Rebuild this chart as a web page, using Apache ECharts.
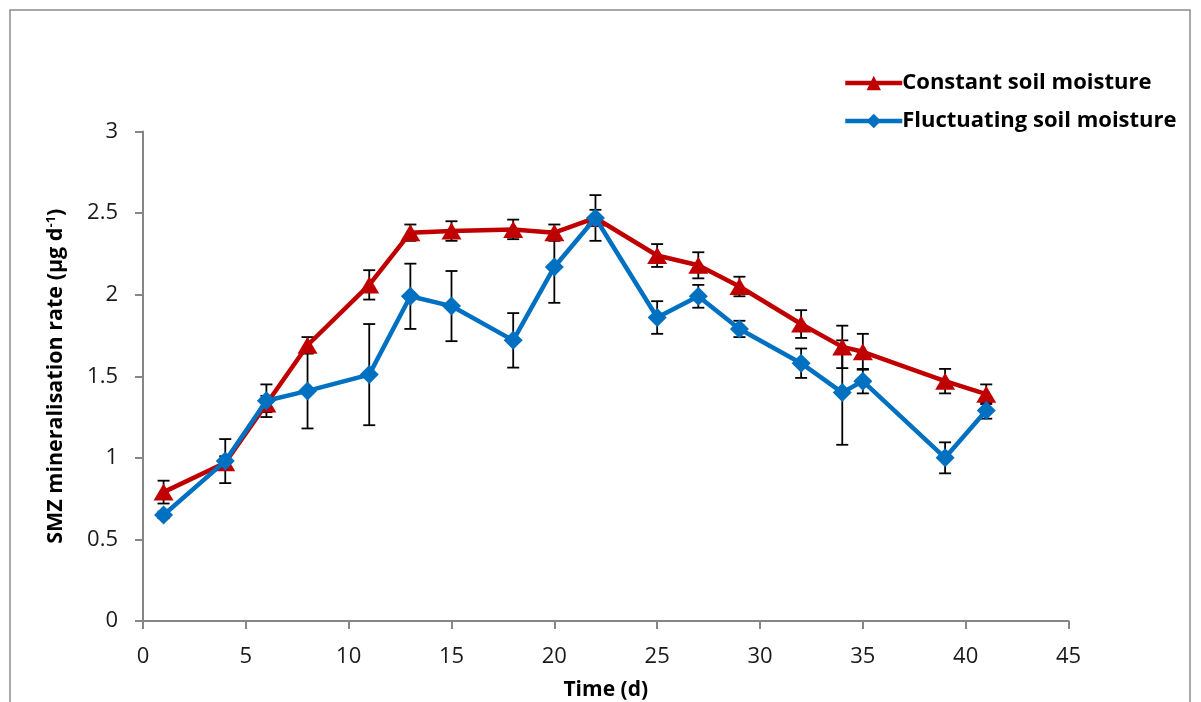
<!DOCTYPE html>
<html><head><meta charset="utf-8">
<script src="https://cdn.jsdelivr.net/npm/echarts@6/dist/echarts.min.js"></script>
<style>html,body{margin:0;padding:0;background:#fff}#c{width:1201px;height:702px}</style>
</head><body><div id="c"></div>
<script>
const days = [1,4,6,8,11,13,15,18,20,22,25,27,29,32,34,35,39,41];
const constant = [0.79,0.97,1.33,1.69,2.06,2.38,2.39,2.40,2.38,2.47,2.24,2.18,2.05,1.82,1.68,1.65,1.47,1.39];
const constantErr = [0.07,0.04,0.05,0.05,0.09,0.05,0.06,0.06,0.05,0.05,0.07,0.08,0.06,0.085,0.13,0.11,0.075,0.06];
const fluctuating = [0.65,0.98,1.35,1.41,1.51,1.99,1.93,1.72,2.17,2.47,1.86,1.99,1.79,1.58,1.40,1.47,1.00,1.29];
const fluctuatingErr = [0.02,0.135,0.10,0.23,0.31,0.20,0.215,0.167,0.22,0.14,0.10,0.07,0.05,0.09,0.32,0.075,0.095,0.05];
const seriesNames = ['Constant soil moisture','Fluctuating soil moisture'];

const FONT = 'Open Sans';
const chart = echarts.init(document.getElementById('c'));

function errData(vals, errs){ return days.map((d,i)=>[d, vals[i]-errs[i], vals[i]+errs[i]]); }
function errSeries(vals, errs){
  return {
    type:'custom', z:1, silent:true,
    data: errData(vals, errs),
    renderItem: function(params, api){
      const x = api.value(0);
      const lo = api.coord([x, api.value(1)]);
      const hi = api.coord([x, api.value(2)]);
      const w = 6;
      const st = {stroke:'#000', lineWidth:1.8};
      return {type:'group', children:[
        {type:'line', shape:{x1:lo[0],y1:lo[1],x2:hi[0],y2:hi[1]}, style:st},
        {type:'line', shape:{x1:lo[0]-w,y1:lo[1],x2:lo[0]+w,y2:lo[1]}, style:st},
        {type:'line', shape:{x1:hi[0]-w,y1:hi[1],x2:hi[0]+w,y2:hi[1]}, style:st}
      ]};
    }
  };
}

chart.setOption({
  animation:false,
  backgroundColor:'#fff',
  grid:{left:143, right:132.5, top:131.5, bottom:81, containLabel:false, outerBoundsMode:'none'},
  graphic:[{type:'rect', shape:{x:10,y:10,width:1180,height:720}, style:{fill:'none', stroke:'#8c8c8c', lineWidth:1.5}, z:-1}],
  legend:{
    orient:'vertical', left:843, top:72, padding:0, itemWidth:57, itemHeight:18, itemGap:16,
    lineStyle:{width:4.5},
    textStyle:{fontFamily:FONT, fontWeight:'bold', fontSize:22, color:'#000', padding:[0,0,0,-5]},
    data:seriesNames
  },
  xAxis:{
    type:'value', min:0, max:45, interval:5,
    name:'Time (d)', nameLocation:'middle', nameGap:59,
    nameTextStyle:{fontFamily:FONT, fontWeight:'bold', fontSize:21, color:'#000'},
    axisLine:{lineStyle:{color:'#868686', width:2}},
    axisTick:{show:true, length:8, lineStyle:{color:'#868686', width:2}},
    axisLabel:{fontFamily:FONT, fontSize:22, color:'#1a1a1a', margin:25},
    splitLine:{show:false}
  },
  yAxis:{
    type:'value', min:0, max:3, interval:0.5,
    name:'{n|SMZ mineralisation rate (µg d}{s|-1}{n|)}', nameLocation:'middle', nameGap:76,
    nameTextStyle:{rich:{
      n:{fontFamily:FONT, fontWeight:'bold', fontSize:21.5, color:'#000'},
      s:{fontFamily:FONT, fontWeight:'bold', fontSize:13, color:'#000', verticalAlign:'top', padding:[0,0,9,0]}
    }},
    axisLine:{show:true, lineStyle:{color:'#868686', width:2}},
    axisTick:{show:true, length:8, lineStyle:{color:'#868686', width:2}},
    axisLabel:{fontFamily:FONT, fontSize:22, color:'#1a1a1a', margin:25},
    splitLine:{show:false}
  },
  series:[
    errSeries(constant, constantErr),
    errSeries(fluctuating, fluctuatingErr),
    {
      name:seriesNames[0], type:'line', z:3,
      data: days.map((d,i)=>[d, constant[i]]),
      symbol:'triangle', symbolSize:[20,17],
      lineStyle:{color:'#C00000', width:4.5},
      itemStyle:{color:'#C00000'}
    },
    {
      name:seriesNames[1], type:'line', z:4,
      data: days.map((d,i)=>[d, fluctuating[i]]),
      symbol:'diamond', symbolSize:[19,19],
      lineStyle:{color:'#0070C0', width:4.5},
      itemStyle:{color:'#0070C0'}
    }
  ]
});
</script></body></html>
